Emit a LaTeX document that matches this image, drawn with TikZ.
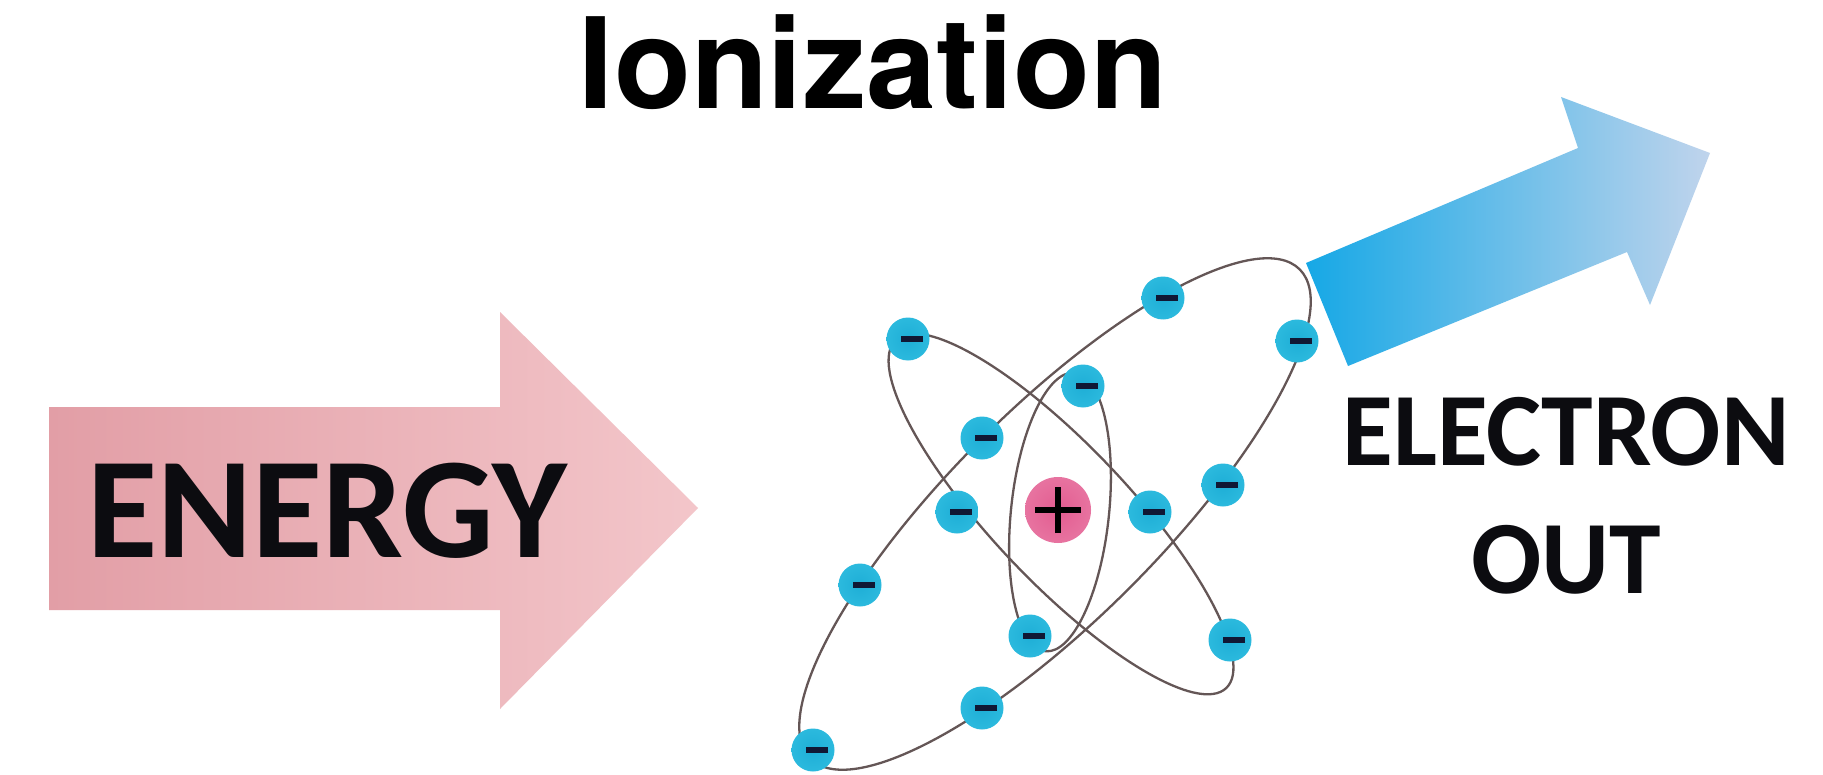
\documentclass[tikz,border=0pt]{standalone}
\usepackage{fontspec}
\setmainfont{Carlito}
\newfontfamily\titlefont{TeX Gyre Heros}
\usetikzlibrary{calc}

\definecolor{pinkL}{RGB}{226,158,166}
\definecolor{pinkR}{RGB}{243,198,202}
\definecolor{blueL}{RGB}{22,168,230}
\definecolor{blueR}{RGB}{192,212,236}
\definecolor{orbitcol}{RGB}{100,86,86}
\definecolor{elecin}{RGB}{30,174,214}
\definecolor{elecmid}{RGB}{44,186,222}
\definecolor{elecrim}{RGB}{128,212,236}
\definecolor{elecout}{RGB}{236,248,252}
\definecolor{minuscol}{RGB}{16,24,52}
\definecolor{nucin}{RGB}{226,92,144}
\definecolor{nucmid}{RGB}{232,118,162}
\definecolor{nucrim}{RGB}{241,164,194}
\definecolor{nucout}{RGB}{252,224,234}
\definecolor{textcol}{RGB}{12,12,16}

% soft-edged balls for electrons and nucleus
\pgfdeclareradialshading{electronshade}{\pgfpoint{0bp}{0bp}}{%
  color(0bp)=(elecin); color(26bp)=(elecmid); color(38bp)=(elecrim);
  color(50bp)=(elecout)}
\pgfdeclareradialshading{nucleusshade}{\pgfpoint{0bp}{0bp}}{%
  color(0bp)=(nucin); color(28bp)=(nucmid); color(42bp)=(nucrim);
  color(50bp)=(nucout)}

\begin{document}
\begin{tikzpicture}[x=0.5pt,y=-0.5pt,
  orbit/.style={draw=orbitcol, line width=1.15pt},
  electron/.style={circle, minimum size=21.5pt, inner sep=0pt,
    shading=electronshade},
  nucleus/.style={circle, minimum size=33pt, inner sep=0pt,
    shading=nucleusshade},
  plusbar/.style={line width=3.2pt, draw=black},
  label/.style={inner sep=0pt, text=textcol, font=\bfseries}]

\useasboundingbox (0,0) rectangle (1823,775);
\fill[white] (0,0) rectangle (1823,775);

% title
\node[anchor=base, inner sep=0pt,
      font=\titlefont\bfseries\fontsize{63}{63}\selectfont] (title) at (873,109) {Ionization};

% energy arrow
\path[left color=pinkL, right color=pinkR]
  (49,407) -- (500,407) -- (500,312) -- (698,508) -- (500,709)
  -- (500,610) -- (49,610) -- cycle;
\node[label, anchor=base west, font=\bfseries\fontsize{72}{72}\selectfont] (energy) at (87,557) {ENERGY};

% outgoing electron arrow
\path[left color=blueL, right color=blueR]
  (1306,263) -- (1578,148) -- (1561,97) -- (1710,153)
  -- (1650,305) -- (1627,252) -- (1348,366) -- cycle;

% orbits
\coordinate (c) at (1058,510);
\draw[orbit, rotate around={45:(1055,514)}] (1055,514) ellipse [x radius=346, y radius=105];
\draw[orbit, rotate around={-46.5:(1061,514)}] (1061,514) ellipse [x radius=240, y radius=68];
\draw[orbit, rotate around={-6:(1060,512)}] (1060,512) ellipse [x radius=49, y radius=140];

% nucleus
\node[nucleus] (nuc) at (c) {};
\draw[plusbar] ([xshift=-11.5pt]nuc.center) -- ([xshift=11.5pt]nuc.center);
\draw[plusbar] ([yshift=-11.5pt]nuc.center) -- ([yshift=11.5pt]nuc.center);

% electrons
\foreach \n/\p in {e1/{(908,339)}, e2/{(1163,298)}, e3/{(1297,341)},
                   e4/{(1083,386)}, e5/{(982,438)}, e6/{(957,512)},
                   e7/{(1150,512)}, e8/{(1223,485)}, e9/{(860,585)},
                   e10/{(1030,636)}, e11/{(1230,640)}, e12/{(982,708)},
                   e13/{(813,750)}}
  \node[electron] (\n) at \p {\hspace*{4pt}\textcolor{minuscol}{\rule[-1.7pt]{11pt}{3.4pt}}};

% labels
\node[label, anchor=base, font=\bfseries\fontsize{52}{52}\selectfont] (elec) at (1566,465) {ELECTRON};
\node[label, anchor=base, font=\bfseries\fontsize{52}{52}\selectfont] (out) at (1566,593) {OUT};
\end{tikzpicture}
\end{document}
